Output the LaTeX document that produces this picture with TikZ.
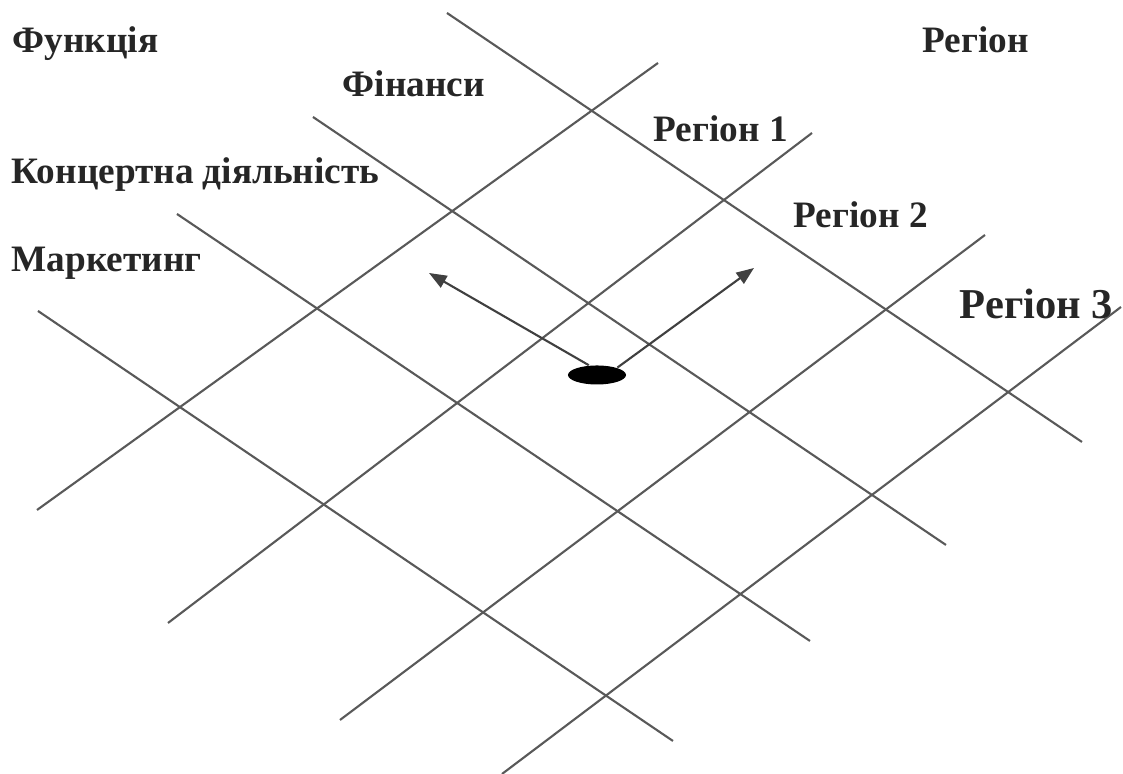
\documentclass[tikz,border=0pt]{standalone}
\usepackage{fontspec}
\setmainfont{Liberation Serif}
\usetikzlibrary{arrows.meta,shapes.geometric}
\begin{document}
\begin{tikzpicture}
[x=0.01cm, y=-0.01cm,
grid/.style={draw=black!65, line width=0.6pt},
arr/.style={draw=black!75, line width=0.6pt, -{Triangle[length=5pt,width=3.8pt]}},
lbl/.style={font=\bfseries\fontsize{10.6}{13}\selectfont, text=black!85, inner sep=0pt, anchor=base west},
dot/.style={ellipse, fill=black, minimum width=0.58cm, minimum height=0.19cm, inner sep=0pt}
]
\useasboundingbox (0,0) rectangle (1123,774);
\foreach \xa/\ya/\xb/\yb in {447/13/1082/442, 313/117/946/545, 177/214/810/641, 38/311/673/741}
\draw[grid] (\xa,\ya) -- (\xb,\yb);
\foreach \xa/\ya/\xb/\yb in {37/510/658/63, 168/623/812/133, 340/720/985/235, 502/774/1121/307}
\draw[grid] (\xa,\ya) -- (\xb,\yb);
\node[dot] (core) at (597,375) {};
\coordinate (tipL) at (429,273);
\coordinate (tipR) at (754,268);
\draw[arr] (core.130) -- (tipL);
\draw[arr] (core.20) -- (tipR);
\node[lbl] (func) at (12,53) {Функція};
\node[lbl] (fin) at (342,97) {Фінанси};
\node[lbl] (conc) at (11,184) {Концертна діяльність};
\node[lbl] (mark) at (11,272) {Маркетинг};
\node[lbl] (reg) at (922,53) {Регіон};
\node[lbl] (reg1) at (653,142) {Регіон 1};
\node[lbl] (reg2) at (793,228) {Регіон 2};
\node[lbl, font=\bfseries\fontsize{12.1}{15}\selectfont] (reg3) at (959,319) {Регіон 3};
\end{tikzpicture}
\end{document}
